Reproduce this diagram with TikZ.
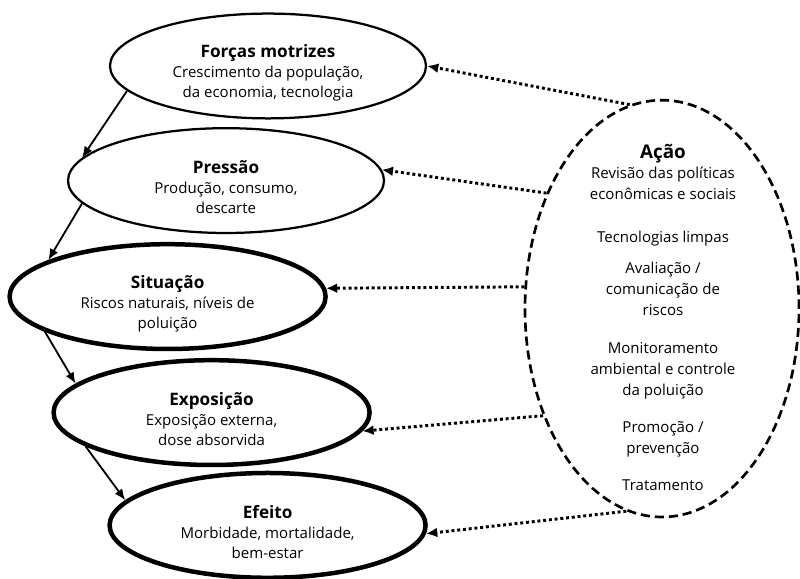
\documentclass[tikz,border=0pt]{standalone}
\usepackage{fontspec}
\setmainfont{Open Sans}
\usetikzlibrary{arrows.meta,shapes.geometric}

\newcommand{\stagehead}[1]{{\fontsize{12.2}{15}\selectfont\bfseries\rule{0pt}{19pt}#1}}

\begin{document}
\begin{tikzpicture}[
    stage/.style={ellipse, draw, line width=1.6pt, inner sep=0pt,
      minimum width=7.9cm, minimum height=2.62cm, align=center,
      font=\fontsize{10.7}{14.2}\selectfont},
    bold stage/.style={stage, line width=3.2pt},
    flow/.style={-{Latex[length=8pt,width=6.5pt]}, line width=1.3pt},
    act/.style={-{Latex[length=8pt,width=7pt]}, line width=2.1pt,
      dash pattern=on 2.1pt off 2pt},
  ]
  \useasboundingbox (0,0) rectangle (20,14.475);

  \node[stage] (fm) at (6.7,12.825)
    {\stagehead{Forças motrizes}\\
     Crescimento da população,\\ da economia, tecnologia};
  \node[stage] (pr) at (5.65,9.96)
    {\stagehead{Pressão}\\
     Produção, consumo,\\ descarte};
  \node[bold stage] (si) at (4.19,7.06)
    {\stagehead{Situação}\\
     Riscos naturais, níveis de\\ poluição};
  \node[bold stage] (ex) at (5.29,4.16)
    {\stagehead{Exposição}\\
     Exposição externa,\\ dose absorvida};
  \node[bold stage] (ef) at (6.69,1.34)
    {\stagehead{Efeito}\\
     Morbidade, mortalidade,\\ bem-estar};

  \node[ellipse, draw, line width=1.9pt, dash pattern=on 6.5pt off 3.5pt,
        minimum width=6.85cm, minimum height=10.42cm] (ac) at (16.55,6.76) {};
  \node[align=center, font=\fontsize{10.7}{14.9}\selectfont] (actxt) at (16.575,6.55)
    {{\fontsize{13.4}{15}\selectfont\bfseries Ação}\\
     Revisão das políticas\\ econômicas e sociais\\[15.6pt]
     Tecnologias limpas\\[7pt]
     Avaliação /\\ comunicação de\\ riscos\\[12pt]
     Monitoramento\\ ambiental e controle\\ da poluição\\[11.4pt]
     Promoção /\\ prevenção\\[11.4pt]
     Tratamento};

  \draw[flow] (fm.190.5) -- (pr.171.2);
  \draw[flow] (pr.189.7) -- (si.163.9);
  \draw[flow] (si.196.2) -- (ex.168.2);
  \draw[flow] (ex.195.3) -- (ef.170.2);

  \draw[act] (ac.99.5)  -- (fm.east);
  \draw[act] (ac.135.9) -- (pr.4.1);
  \draw[act] (ac.171.4) -- (si.3.1);
  \draw[act] (ac.222.4) -- (ex.353.7);
  \draw[act] (ac.260.2) -- (ef.357.3);
\end{tikzpicture}
\end{document}
